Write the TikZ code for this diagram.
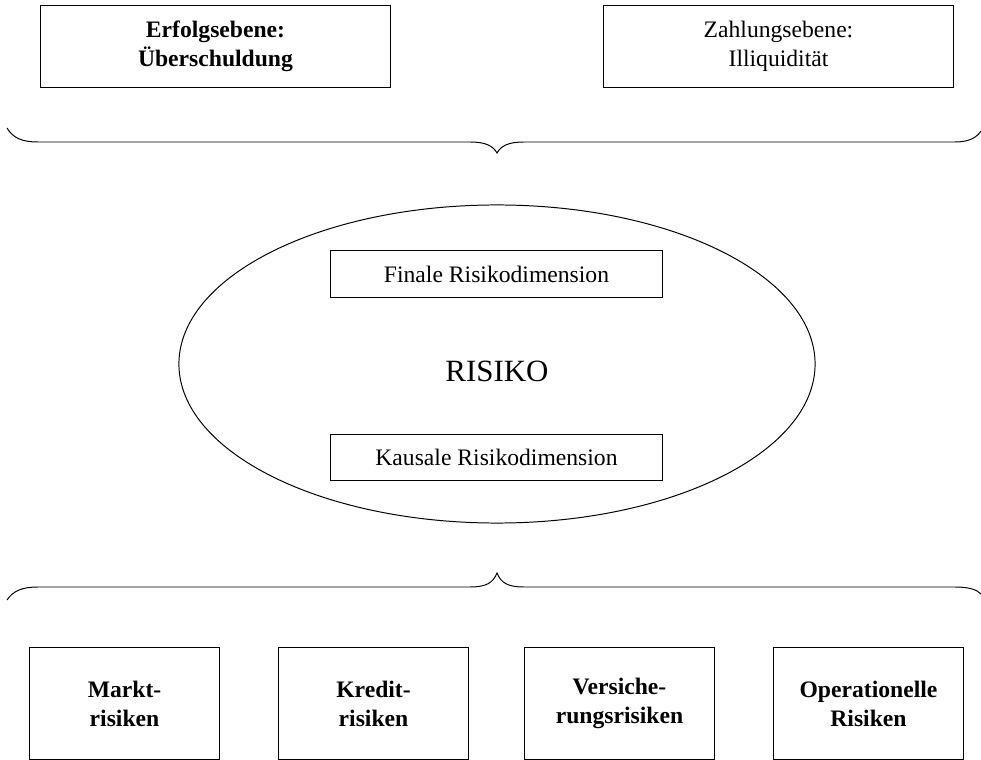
\documentclass[tikz,border=0pt]{standalone}
\usepackage{fontspec}
\setmainfont{Liberation Serif}
\usetikzlibrary{shapes.geometric}

\begin{document}
\begin{tikzpicture}[x=0.025cm,y=-0.025cm,line width=.7pt,
  every node/.style={font=\fontsize{16.8}{20.6}\selectfont},
  bold/.style={font=\fontsize{16.8}{20.6}\selectfont\bfseries},
  box/.style={draw,align=center,inner sep=0pt},
  levelbox/.style={box,minimum width=8.725cm,minimum height=2.025cm},
  dimbox/.style={box,minimum width=8.275cm,minimum height=1.15cm},
  riskbox/.style={box,bold,minimum width=4.725cm,minimum height=2.775cm}]
\useasboundingbox (0,0) rectangle (981,760);
% Ebenen oben
\node[levelbox,bold] (erfolg) at (215.5,46.5) {Erfolgsebene:\\Überschuldung};
\node[levelbox] (zahlung) at (778.5,46.5) {Zahlungsebene:\\Illiquidität};
% obere Klammer
\coordinate (bt0) at (7,128);
\coordinate (bt1) at (497,153);
\coordinate (bt2) at (981,131);
\draw (bt0) .. controls (13,138) and (22,142) .. (38,142) -- (470,142)
  .. controls (486,142) and (493,146) .. (bt1)
  .. controls (501,146) and (508,142) .. (524,142) -- (955,142)
  .. controls (970,142) and (977,137) .. (bt2);
% Risiko
\node[draw,ellipse,inner sep=0pt,minimum width=15.9cm,minimum height=7.95cm] (risiko) at (497,364) {};
\node[font=\fontsize{22}{26}\selectfont] (risikotext) at (497,371) {RISIKO};
\node[dimbox] (final) at (496.5,274) {Finale Risikodimension};
\node[dimbox] (kausal) at (496.5,457) {Kausale Risikodimension};
% untere Klammer
\coordinate (bb0) at (7,600);
\coordinate (bb1) at (497,573);
\coordinate (bb2) at (981,594);
\draw (bb0) .. controls (13,591) and (22,587) .. (38,587) -- (470,587)
  .. controls (486,587) and (493,583) .. (bb1)
  .. controls (501,583) and (508,587) .. (524,587) -- (955,587)
  .. controls (970,587) and (977,590) .. (bb2);
% Risikoarten unten
\node[riskbox] (markt) at (124.5,703.5) {Markt-\\risiken};
\node[riskbox] (kredit) at (373.5,703.5) {Kredit-\\risiken};
\node[riskbox] (versich) at (619.5,703.5) {Versiche-\\rungsrisiken};
\node[riskbox] (oprisk) at (868.5,703.5) {Operationelle\\Risiken};
\end{tikzpicture}
\end{document}
